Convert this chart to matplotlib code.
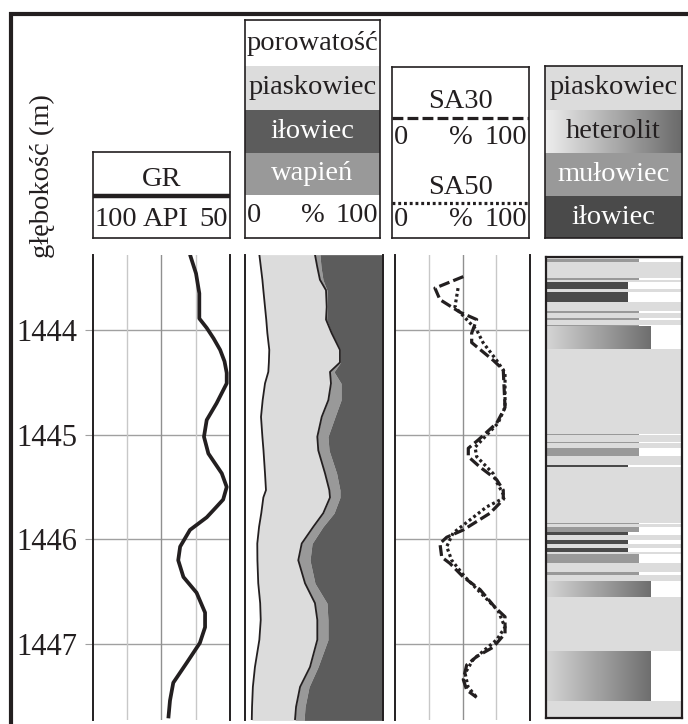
"""Well log panel: GR, lithology fractions with porosity, SA30/SA50 and lithology column."""

import numpy as np
import matplotlib

matplotlib.use("Agg")
import matplotlib.pyplot as plt
from matplotlib.colors import LinearSegmentedColormap

W, H = 688, 724
plt.rcParams["font.family"] = ["Liberation Serif", "DejaVu Serif"]

INK = "#231f20"
SAND = "#dcdcdc"
CLAY = "#5c5c5c"
LIME = "#999999"
MUD = "#999999"
CLAY_BAR = "#4a4a4a"
GRID_LIGHT = "#c8c8c8"
GRID_MID = "#909090"
FS = 20.5

# ---- data -------------------------------------------------------------
depth_ticks = [1444, 1445, 1446, 1447]

gr_depth = [1443.28, 1443.46, 1443.65, 1443.89, 1443.98, 1444.08, 1444.19, 1444.30,
            1444.41, 1444.51, 1444.70, 1444.86, 1445.02, 1445.18, 1445.37, 1445.50,
            1445.62, 1445.70, 1445.79, 1445.91, 1446.07, 1446.20, 1446.36, 1446.51,
            1446.70, 1446.84, 1446.99, 1447.18, 1447.37, 1447.54, 1447.71]
gr_api = [64.6, 62.4, 61.2, 61.2, 58.5, 56.0, 53.6, 52.0,
          51.2, 51.2, 54.9, 58.5, 59.5, 57.9, 53.0, 51.2,
          52.5, 55.3, 58.5, 64.6, 68.2, 68.9, 67.0, 62.2,
          59.1, 59.1, 61.0, 65.8, 70.7, 71.9, 72.5]

# porosity and cumulative lithology boundaries (%)
por_depth = [1443.28, 1443.40, 1443.52, 1443.62, 1443.78, 1443.90, 1444.03, 1444.19,
             1444.31, 1444.40, 1444.51, 1444.67, 1444.83, 1445.02, 1445.15, 1445.37,
             1445.53, 1445.60, 1445.75, 1445.88, 1446.04, 1446.20, 1446.42, 1446.61,
             1446.77, 1446.96, 1447.22, 1447.41, 1447.60, 1447.73]
porosity = [10.4, 11.5, 12.6, 13.3, 14.5, 15.4, 16.2, 17.6,
            17.3, 16.9, 14.5, 12.8, 11.6, 12.6, 13.4, 14.5,
            15.2, 13.3, 11.8, 10.2, 8.9, 9.0, 9.6, 11.0,
            11.4, 10.4, 7.2, 5.7, 5.1, 4.9]
sand_top = [50.7, 52.4, 54.3, 58.7, 59.2, 58.7, 62.8, 68.8,
            68.8, 61.6, 62.3, 60.4, 55.6, 52.4, 53.1, 58.0,
            61.1, 61.6, 56.7, 49.5, 41.1, 38.6, 43.5, 50.7,
            52.4, 52.4, 47.1, 39.9, 37.0, 36.2]
lime_top = [54.3, 55.1, 56.5, 59.4, 59.6, 59.1, 63.0, 69.2,
            69.2, 64.5, 69.6, 69.6, 65.2, 60.1, 60.9, 66.4,
            68.8, 68.8, 64.5, 56.5, 48.6, 47.1, 50.7, 59.4,
            60.1, 60.1, 52.9, 46.4, 43.5, 42.8]

sa30_depth = [1443.49, 1443.60, 1443.71, 1443.83, 1443.90, 1444.03, 1444.12, 1444.29,
              1444.38, 1444.74, 1444.89, 1445.05, 1445.13, 1445.21, 1445.31, 1445.43,
              1445.53, 1445.62, 1445.75, 1445.91, 1445.98, 1446.04, 1446.17, 1446.23,
              1446.36, 1446.48, 1446.65, 1446.74, 1446.90, 1447.03, 1447.12, 1447.20,
              1447.34, 1447.44, 1447.51]
sa30 = [50.6, 29.6, 33.3, 48.1, 60.5, 56.8, 56.8, 72.8,
        80.2, 81.5, 75.3, 61.7, 54.3, 54.3, 63.0, 75.3,
        80.2, 80.2, 70.4, 50.6, 38.3, 33.3, 34.6, 40.7,
        50.6, 63.0, 74.1, 81.5, 81.5, 72.8, 60.5, 53.1,
        50.6, 53.1, 60.5]

sa50_depth = [1443.60, 1443.78, 1443.90, 1444.00, 1444.12, 1444.29, 1444.41, 1444.74,
              1444.89, 1445.12, 1445.21, 1445.37, 1445.46, 1445.60, 1445.69, 1445.94,
              1446.07, 1446.20, 1446.36, 1446.68, 1446.84, 1446.96, 1447.15, 1447.28,
              1447.41, 1447.51]
sa50 = [46.7, 44.4, 53.1, 60.5, 65.2, 75.3, 81.5, 81.5,
        76.3, 59.3, 60.5, 72.6, 75.6, 81.5, 67.9, 43.0,
        38.3, 42.0, 51.9, 76.3, 81.5, 75.3, 57.8, 51.9,
        54.1, 60.5]

# lithology column: (top, base, rock) over a sandstone background
lith_top = [1443.32, 1443.50, 1443.54, 1443.64, 1443.82, 1443.89, 1443.95, 1443.96,
            1444.99, 1445.07, 1445.13, 1445.29, 1445.84, 1445.88, 1445.93, 1446.01,
            1446.08, 1446.14, 1446.31, 1446.40, 1447.07]
lith_base = [1443.35, 1443.52, 1443.61, 1443.73, 1443.84, 1443.90, 1443.96, 1444.18,
             1445.00, 1445.08, 1445.20, 1445.31, 1445.85, 1445.93, 1445.96, 1446.04,
             1446.12, 1446.23, 1446.34, 1446.55, 1447.54]
lith_rock = ["mud", "mud", "clay", "clay", "mud", "mud", "mud", "het",
             "mud", "mud", "mud", "clay", "mud", "mud", "clay", "clay",
             "clay", "mud", "mud", "het", "het"]
rock_width = {"mud": 0.684, "clay": 0.603, "het": 0.772}
rock_color = {"mud": MUD, "clay": CLAY_BAR}

het_cmap = LinearSegmentedColormap.from_list("het", ["#d6d6d6", "#6e6e6e"])


# ---- layout helpers ---------------------------------------------------
def depth_at(y):
    """Depth (m) at a pixel row; the 1444 m line sits at 330 px, 1447 m at 644 px."""
    return 1444 + (y - 330) * 3.0 / (644 - 330)


def rect(x0, y0, x1, y1):
    return [x0 / W, 1 - y1 / H, (x1 - x0) / W, (y1 - y0) / H]


def track(fig, x0, x1, y0=255, y1=720):
    ax = fig.add_axes(rect(x0, y0, x1, y1))
    ax.set_ylim(depth_at(y1), depth_at(y0))
    for side in ("top", "bottom"):
        ax.spines[side].set_visible(False)
    for side in ("left", "right"):
        ax.spines[side].set_color(INK)
        ax.spines[side].set_linewidth(1.4)
    ax.set_xticks([])
    return ax


def header(fig, x0, y0, x1, y1):
    ax = fig.add_axes(rect(x0, y0, x1, y1))
    ax.set_xlim(0, x1 - x0)
    ax.set_ylim(y1 - y0, 0)
    ax.set_xticks([])
    ax.set_yticks([])
    for s in ax.spines.values():
        s.set_color(INK)
        s.set_linewidth(1.2)
    return ax


def scale_row(ax, y, left="0", right="100", unit="%", unit_x=None):
    w = ax.get_xlim()[1]
    ax.text(2, y, left, ha="left", va="center", fontsize=FS, color=INK)
    ax.text(w / 2 if unit_x is None else unit_x, y, unit, ha="center",
            va="center", fontsize=FS, color=INK)
    ax.text(w - 2, y, right, ha="right", va="center", fontsize=FS, color=INK)


fig = plt.figure(figsize=(W / 100, H / 100), dpi=100)

# outer frame
bg = fig.add_axes([0, 0, 1, 1])
bg.set_xlim(0, W)
bg.set_ylim(H, 0)
bg.axis("off")
bg.plot([11, 11], [12, H], color=INK, lw=3, solid_capstyle="butt")
bg.plot([9, W], [14, 14], color=INK, lw=3, solid_capstyle="butt")

fig.text(42 / W, 1 - 176 / H, "głębokość (m)", rotation=90, ha="center",
         va="center", fontsize=FS, color=INK)

# ---- GR track ---------------------------------------------------------
ax = track(fig, 93, 230)
ax.set_xlim(100, 50)
ax.axvline(87.5, color=GRID_LIGHT, lw=1)
ax.axvline(75, color=GRID_MID, lw=1)
ax.axvline(62.5, color=GRID_LIGHT, lw=1)
ax.set_yticks(depth_ticks)
ax.set_yticklabels([str(d) for d in depth_ticks])
ax.grid(axis="y", color="#a0a0a0", lw=1)
ax.tick_params(axis="y", length=6, width=0.8, color="#a0a0a0", pad=5,
               labelsize=22, labelcolor=INK)
ax.plot(gr_api, gr_depth, color=INK, lw=2.7, solid_joinstyle="round",
        solid_capstyle="butt")

hd = header(fig, 93, 152, 230, 238)
hd.text(68.5, 28, "GR", ha="center", va="center", fontsize=FS, color=INK)
hd.axhline(44, color=INK, lw=3.2)
scale_row(hd, 68, "100", "50", "API", unit_x=73)

# ---- porosity / lithology fractions -----------------------------------
ax = track(fig, 245, 383)
ax.set_xlim(0, 100)
ax.set_yticks([])
ax.fill_betweenx(por_depth, 0, porosity, color="white", lw=0)
ax.fill_betweenx(por_depth, porosity, sand_top, color=SAND, lw=0)
ax.fill_betweenx(por_depth, sand_top, lime_top, color=LIME, lw=0)
ax.fill_betweenx(por_depth, lime_top, 100, color=CLAY, lw=0)
ax.plot(porosity, por_depth, color=INK, lw=1.3)
ax.plot(sand_top, por_depth, color=INK, lw=1.3)

hd = header(fig, 245, 20, 380, 238)
rows = [(0, 46, "white", "porowatość", INK),
        (46, 90, SAND, "piaskowiec", INK),
        (90, 133, CLAY, "iłowiec", "white"),
        (133, 175, LIME, "wapień", "white")]
for y0, y1, fc, label, tc in rows:
    hd.axhspan(y0, y1, color=fc, lw=0)
    hd.text(67.5, (y0 + y1) / 2, label, ha="center", va="center",
            fontsize=FS, color=tc)
scale_row(hd, 196)

# ---- SA30 / SA50 ------------------------------------------------------
ax = track(fig, 395, 530)
ax.set_xlim(0, 100)
ax.axvline(25, color=GRID_LIGHT, lw=1)
ax.axvline(50, color=GRID_MID, lw=1)
ax.axvline(75, color=GRID_LIGHT, lw=1)
ax.set_yticks(depth_ticks)
ax.set_yticklabels([])
ax.tick_params(axis="y", length=0)
ax.grid(axis="y", color="#a0a0a0", lw=1)
ax.plot(sa30, sa30_depth, color=INK, lw=2.3, linestyle=(0, (3.4, 1.3)))
ax.plot(sa50, sa50_depth, color=INK, lw=2.3, linestyle=(0, (0.9, 0.9)))

hd = header(fig, 392, 67, 529, 238)
hd.text(68.5, 35, "SA30", ha="center", va="center", fontsize=FS, color=INK)
hd.axhline(51, color=INK, lw=2.3, linestyle=(0, (3.4, 1.3)))
scale_row(hd, 71)
hd.text(68.5, 121, "SA50", ha="center", va="center", fontsize=FS, color=INK)
hd.axhline(136, color=INK, lw=2.3, linestyle=(0, (0.9, 0.9)))
scale_row(hd, 153)

# ---- lithology column -------------------------------------------------
ax = fig.add_axes(rect(546, 257, 682, 718))
ax.set_facecolor(SAND)
ax.set_xticks([])
ax.set_yticks([])
for s in ax.spines.values():
    s.set_color(INK)
    s.set_linewidth(1.6)
for top, base, rock in zip(lith_top, lith_base, lith_rock):
    w = rock_width[rock]
    ax.fill_betweenx([top, base], w, 1, color="white", lw=0)
    if rock == "het":
        ax.imshow(np.linspace(0, 1, 256)[None, :], cmap=het_cmap, aspect="auto",
                  extent=(0, w, base, top), interpolation="bilinear")
    else:
        ax.fill_betweenx([top, base], 0, w, color=rock_color[rock], lw=0)
ax.set_xlim(0, 1)
ax.set_ylim(depth_at(718), depth_at(257))

hd = header(fig, 545, 66, 682, 238)
hd.axhspan(0, 44, color=SAND, lw=0)
hd.imshow(np.linspace(0, 1, 256)[None, :],
          cmap=LinearSegmentedColormap.from_list("hh", ["#eeeeee", "#6a6a6a"]),
          aspect="auto", extent=(0, 137, 87, 44), interpolation="bilinear")
hd.axhspan(87, 130, color=MUD, lw=0)
hd.axhspan(130, 172, color=CLAY_BAR, lw=0)
hd.set_xlim(0, 137)
hd.set_ylim(172, 0)
for yc, label, tc in [(22, "piaskowiec", INK), (65.5, "heterolit", INK),
                      (108.5, "mułowiec", "white"), (151, "iłowiec", "white")]:
    hd.text(68.5, yc, label, ha="center", va="center", fontsize=FS, color=tc)

fig.savefig("out.png", dpi=100)
